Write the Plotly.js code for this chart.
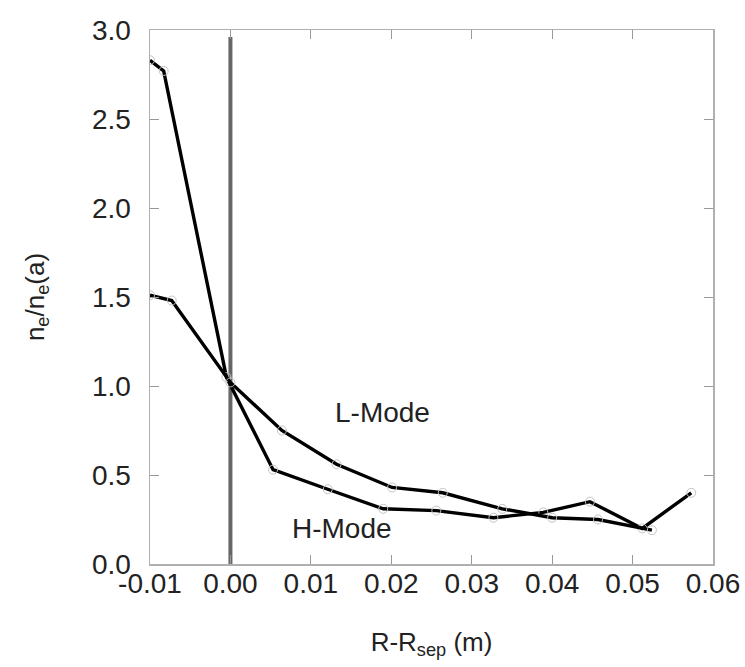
<!DOCTYPE html>
<html>
<head>
<meta charset="utf-8">
<script src="https://cdn.plot.ly/plotly-3.0.1.min.js"></script>
<style>html,body{margin:0;padding:0;background:#fff;}#chart{width:745px;height:667px;}</style>
</head>
<body>
<div id="chart"></div>
<script>
// H-Mode profile (steep)
const hModeX = [-0.0100, -0.0083, -0.0005, 0.0053, 0.0121, 0.0190, 0.0256, 0.0327, 0.0389, 0.0447, 0.0512, 0.0573];
const hModeY = [2.83, 2.77, 1.05, 0.53, 0.42, 0.31, 0.30, 0.26, 0.29, 0.35, 0.20, 0.40];
// L-Mode profile
const lModeX = [-0.0100, -0.0073, 0.0000, 0.0064, 0.0132, 0.0201, 0.0264, 0.0338, 0.0400, 0.0457, 0.0524];
const lModeY = [1.51, 1.48, 1.02, 0.75, 0.56, 0.43, 0.40, 0.31, 0.26, 0.25, 0.19];
// separatrix line
const sepX = [0, 0];
const sepY = [0, 2.96];
// tick labels
const xTickVals = [-0.01, 0.00, 0.01, 0.02, 0.03, 0.04, 0.05, 0.06];
const xTickText = ["-0.01", "0.00", "0.01", "0.02", "0.03", "0.04", "0.05", "0.06"];
const yTickVals = [0.0, 0.5, 1.0, 1.5, 2.0, 2.5, 3.0];
const yTickText = ["0.0", "0.5", "1.0", "1.5", "2.0", "2.5", "3.0"];

const FONT = "Liberation Sans, Arial, Helvetica, sans-serif";
const markerStyle = {symbol: "circle-open", size: 9, color: "#c4c4c4", line: {width: 1, color: "#c4c4c4"}};

const traces = [
  {x: sepX, y: sepY, mode: "lines", line: {color: "#666666", width: 4}, hoverinfo: "skip"},
  {x: hModeX, y: hModeY, mode: "lines+markers", line: {color: "#000000", width: 3.4}, marker: markerStyle, name: "H-Mode"},
  {x: lModeX, y: lModeY, mode: "lines+markers", line: {color: "#000000", width: 3.4}, marker: markerStyle, name: "L-Mode"}
];

const axisCommon = {
  showgrid: false, zeroline: false, showline: true, linecolor: "#b0b0b0", linewidth: 1.5,
  ticks: "inside", ticklen: 9, tickwidth: 1, tickcolor: "#999999", mirror: "ticks",
  tickfont: {family: FONT, size: 28, color: "#222222"}, tickmode: "array"
};

const layout = {
  width: 745, height: 667,
  margin: {l: 150, r: 32, t: 30, b: 103},
  paper_bgcolor: "#ffffff", plot_bgcolor: "#ffffff",
  showlegend: false,
  xaxis: Object.assign({}, axisCommon, {
    range: [-0.01, 0.06], tickvals: xTickVals, ticktext: xTickText, ticklabelstandoff: -6,
    title: {text: "R-R<sub>sep</sub> (m)", font: {family: FONT, size: 26, color: "#222222"}, standoff: 34}
  }),
  yaxis: Object.assign({}, axisCommon, {
    range: [0, 3.0], tickvals: yTickVals, ticktext: yTickText, ticklabelstandoff: 12,
    title: {text: "n<sub>e</sub>/n<sub>e</sub>(a)", font: {family: FONT, size: 26, color: "#222222"}, standoff: 40}
  }),
  annotations: [
    {x: 0.0189, y: 0.85, xref: "x", yref: "y", text: "L-Mode", showarrow: false, font: {family: FONT, size: 28, color: "#222222"}},
    {x: 0.0139, y: 0.20, xref: "x", yref: "y", text: "H-Mode", showarrow: false, font: {family: FONT, size: 28, color: "#222222"}}
  ]
};

Plotly.newPlot("chart", traces, layout, {staticPlot: true, displayModeBar: false});
</script>
</body>
</html>
